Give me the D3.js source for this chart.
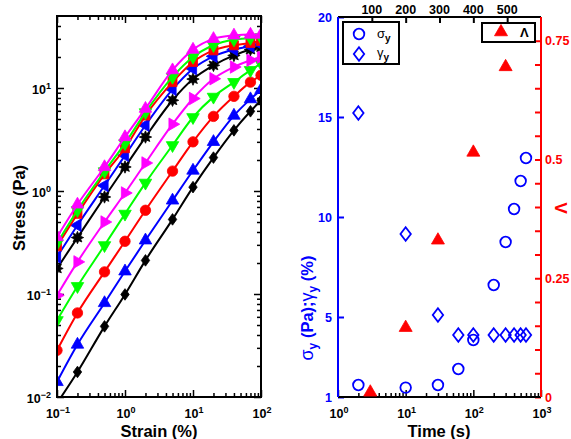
<!DOCTYPE html>
<html><head><meta charset="utf-8">
<script src="https://cdn.jsdelivr.net/npm/d3@7"></script>
<style>
body{margin:0;background:#fff}
svg{display:block}
text{font-family:"Liberation Sans",Arial,Helvetica,sans-serif;font-weight:bold}
</style></head><body>
<svg id="c" width="571" height="439"></svg>
<script>
// ---------- DATA: left panel (stress vs strain) ----------
const strain = [0.1, 0.2, 0.5, 1, 2, 5, 10, 20, 40, 70, 100];
const stressDiamond   = [0.0087, 0.0175, 0.0485, 0.099, 0.212, 0.53, 1.09, 2.11, 3.88, 5.94, 7.6];
const stressTriUp     = [0.014, 0.0323, 0.0818, 0.166, 0.332, 0.81, 1.58, 3.0, 5.4, 7.8, 9.6];
const stressCircle    = [0.0284, 0.0655, 0.164, 0.325, 0.65, 1.56, 3.0, 5.3, 8.3, 11.4, 13.3];
const stressTriDown   = [0.0556, 0.119, 0.297, 0.60, 1.2, 2.78, 5.2, 8.2, 11.4, 14.9, 17.3];
const stressTriRight  = [0.097, 0.205, 0.5, 0.957, 1.87, 4.45, 7.9, 12.3, 16, 18.6, 20];
const stressStar      = [0.177, 0.353, 0.875, 1.71, 3.34, 7.6, 12.2, 16.6, 20.7, 23.6, 25];
const stressTriLeft   = [0.229, 0.465, 1.13, 2.22, 4.35, 9.7, 15.4, 20.3, 23.6, 25.4, 26.4];
const stressSquare    = [0.29, 0.6, 1.45, 2.6, 5.4, 11.4, 17.9, 23.2, 26, 27.4, 28.6];
const stressTriDown2  = [0.31, 0.65, 1.55, 2.9, 5.8, 12.8, 20, 26, 29.5, 30.5, 31];
const stressTriUp2    = [0.357, 0.74, 1.71, 3.34, 6.3, 14.9, 23.6, 30, 32.4, 33, 33];

// ---------- DATA: right panel (vs time) ----------
const time     = [2, 10, 30, 60, 100, 200, 300, 400, 500, 600];
const sigmaY   = [1.6, 1.47, 1.6, 2.4, 3.85, 6.6, 8.75, 10.4, 11.8, 12.95];
const gammaY   = [15.2, 9.15, 5.1, 4.1, 4.1, 4.1, 4.1, 4.1, 4.1, 4.1];
const timeLam  = [3, 10, 30, 100, 300];
const lambda   = [0.01, 0.146, 0.33, 0.515, 0.695];

// ---------- tick labels ----------
const leftXMajor = [0.1, 1, 10, 100];
const leftXExp   = ["\u22121", "0", "1", "2"];
const leftYMajor = [0.01, 0.1, 1, 10];
const leftYExp   = ["\u22122", "\u22121", "0", "1"];
const rightXMajor = [1, 10, 100, 1000];
const rightXExp   = ["0", "1", "2", "3"];
const rightYTicks = [1, 5, 10, 15, 20];
const lamTicks    = [0, 0.25, 0.5, 0.75];
const lamTickLabels = ["0", "0.25", "0.5", "0.75"];
const topTicks    = [100, 200, 300, 400, 500];

// ---------- styles ----------
const seriesList = [
  {v: stressDiamond,  color: "#000000", mark: "diamond"},
  {v: stressTriUp,    color: "#0000ff", mark: "up"},
  {v: stressCircle,   color: "#ff0000", mark: "circle"},
  {v: stressTriDown,  color: "#00ff00", mark: "down"},
  {v: stressTriRight, color: "#ff00ff", mark: "right"},
  {v: stressStar,     color: "#000000", mark: "star"},
  {v: stressTriLeft,  color: "#0000ff", mark: "left"},
  {v: stressSquare,   color: "#ff0000", mark: "square"},
  {v: stressTriDown2, color: "#00ff00", mark: "down"},
  {v: stressTriUp2,   color: "#ff00ff", mark: "up"}
];

function triPath(L, angle){
  const R = L/Math.sqrt(3);
  const pts = [0,1,2].map(i=>{
    const a = (angle + i*120 - 90)*Math.PI/180;
    return [R*Math.cos(a), R*Math.sin(a)];
  });
  return "M"+pts.map(p=>p[0].toFixed(2)+","+p[1].toFixed(2)).join("L")+"Z";
}
function starPath(R, r, n){
  let d = "";
  for(let i=0;i<2*n;i++){
    const rad = i%2===0 ? R : r;
    const a = (i*180/n - 90)*Math.PI/180;
    d += (i===0?"M":"L")+(rad*Math.cos(a)).toFixed(2)+","+(rad*Math.sin(a)).toFixed(2);
  }
  return d+"Z";
}
function markPath(type, s){
  s = s || 1;
  switch(type){
    case "circle": { const r=5.2*s; return `M${-r},0A${r},${r} 0 1,0 ${r},0A${r},${r} 0 1,0 ${-r},0Z`; }
    case "diamond": { const w=4.2*s, h=5.8*s; return `M0,${-h}L${w},0L0,${h}L${-w},0Z`; }
    case "square": { const a=4.5*s; return `M${-a},${-a}H${a}V${a}H${-a}Z`; }
    case "up": return triPath(12.5*s, 0);
    case "down": return triPath(12.5*s, 180);
    case "right": return triPath(12.5*s, 90);
    case "left": return triPath(12.5*s, 270);
    case "star": return starPath(6.2*s, 3.4*s, 8);
  }
}

const svg = d3.select("#c");
svg.append("rect").attr("width",571).attr("height",439).attr("fill","#fff");

function powLabel(g, x, y, exp, anchor, color){
  const t = g.append("text").attr("x",x).attr("y",y).attr("text-anchor",anchor)
    .attr("font-size",12.5).attr("fill",color||"#000");
  t.append("tspan").text("10");
  t.append("tspan").attr("dy",-5).attr("font-size",9).text(exp);
}
function minorLog(lo, hi){
  const out=[];
  for(let e=Math.floor(Math.log10(lo)); e<=Math.ceil(Math.log10(hi)); e++){
    for(let m=2;m<=9;m++){ const v=m*Math.pow(10,e); if(v>lo*1.0001 && v<hi*0.9999) out.push(v); }
  }
  return out;
}
function styleAxis(sel, color, w){
  sel.select(".domain").remove();
  sel.selectAll(".tick line").attr("stroke",color).attr("stroke-width",w||1.5);
  sel.selectAll(".tick text").remove();
}

// ================= LEFT PANEL =================
const L = {x0:57, x1:261, y0:16, y1:397};
const xL = d3.scaleLog().domain([0.1,100]).range([L.x0,L.x1]);
const yL = d3.scaleLog().domain([0.01,50]).range([L.y1,L.y0]);
const gL = svg.append("g");

svg.append("defs").append("clipPath").attr("id","clipL")
  .append("rect").attr("x",L.x0).attr("y",L.y0).attr("width",L.x1-L.x0).attr("height",L.y1-L.y0);

const xMinL = minorLog(0.1,100), yMinL = minorLog(0.01,50);
[[d3.axisBottom(xL), L.y1], [d3.axisTop(xL), L.y0]].forEach(([ax, ty])=>{
  gL.append("g").attr("transform",`translate(0,${ty})`).call(ax.tickValues(leftXMajor).tickSize(-7).tickFormat("")).call(styleAxis,"#000");
  gL.append("g").attr("transform",`translate(0,${ty})`).call(ax.tickValues(xMinL).tickSize(-4).tickFormat("")).call(styleAxis,"#000");
});
[[d3.axisLeft(yL), L.x0], [d3.axisRight(yL), L.x1]].forEach(([ax, tx])=>{
  gL.append("g").attr("transform",`translate(${tx},0)`).call(ax.tickValues(leftYMajor).tickSize(-7).tickFormat("")).call(styleAxis,"#000");
  gL.append("g").attr("transform",`translate(${tx},0)`).call(ax.tickValues(yMinL).tickSize(-4).tickFormat("")).call(styleAxis,"#000");
});

const plotL = gL.append("g").attr("clip-path","url(#clipL)");
const lineL = d3.line().x(d=>xL(d[0])).y(d=>yL(d[1])).curve(d3.curveMonotoneX);
seriesList.forEach(s=>{
  const pts = strain.map((x,i)=>[x, s.v[i]]);
  plotL.append("path").attr("d",lineL(pts)).attr("fill","none").attr("stroke",s.color).attr("stroke-width",2);
  plotL.selectAll(null).data(pts).enter().append("path")
    .attr("transform",d=>`translate(${xL(d[0])},${yL(d[1])})`)
    .attr("d",markPath(s.mark)).attr("fill",s.color).attr("stroke",s.color).attr("stroke-width",0.8);
});

gL.append("rect").attr("x",L.x0).attr("y",L.y0).attr("width",L.x1-L.x0).attr("height",L.y1-L.y0)
  .attr("fill","none").attr("stroke","#000").attr("stroke-width",2);

leftXMajor.forEach((v,i)=>powLabel(gL, xL(v)+1, 418, leftXExp[i], "middle"));
leftYMajor.forEach((v,i)=>powLabel(gL, 51, yL(v)+6, leftYExp[i], "end"));

gL.append("text").attr("x",159).attr("y",437).attr("text-anchor","middle").attr("font-size",16.5).text("Strain (%)");
gL.append("text").attr("transform","translate(24.5,208) rotate(-90)").attr("text-anchor","middle").attr("font-size",16.5).text("Stress (Pa)");

// ================= RIGHT PANEL =================
const R = {x0:338, x1:541, y0:17, y1:397};
const xR = d3.scaleLog().domain([1,1000]).range([R.x0,R.x1]);
const xTop = d3.scaleLinear().domain([0,600]).range([R.x0,R.x1]);
const yR = d3.scaleLinear().domain([1,20]).range([R.y1,R.y0]);
const yLam = d3.scaleLinear().domain([0,0.8]).range([R.y1,R.y0]);
const gR = svg.append("g");

gR.append("g").attr("transform",`translate(0,${R.y1})`).call(d3.axisBottom(xR).tickValues(rightXMajor).tickSize(-7).tickFormat("")).call(styleAxis,"#000");
gR.append("g").attr("transform",`translate(0,${R.y1})`).call(d3.axisBottom(xR).tickValues(minorLog(1,1000)).tickSize(-4).tickFormat("")).call(styleAxis,"#000");
gR.append("g").attr("transform",`translate(0,${R.y0})`).call(d3.axisTop(xTop).tickValues(topTicks).tickSize(-6).tickFormat("")).call(styleAxis,"#000",2);
gR.append("g").attr("transform",`translate(${R.x0},0)`).call(d3.axisLeft(yR).tickValues(rightYTicks).tickSize(-6).tickFormat("")).call(styleAxis,"#0000ff",2);
gR.append("g").attr("transform",`translate(${R.x1},0)`).call(d3.axisRight(yLam).tickValues(d3.range(0,16).map(i=>i*0.05)).tickSize(-6).tickFormat("")).call(styleAxis,"#ff0000",2);

gR.append("line").attr("x1",R.x0).attr("x2",R.x1).attr("y1",R.y1).attr("y2",R.y1).attr("stroke","#000").attr("stroke-width",2);
gR.append("line").attr("x1",R.x0).attr("x2",R.x1).attr("y1",R.y0).attr("y2",R.y0).attr("stroke","#000").attr("stroke-width",2);
gR.append("line").attr("x1",R.x0).attr("x2",R.x0).attr("y1",R.y0).attr("y2",R.y1).attr("stroke","#0000ff").attr("stroke-width",2);
gR.append("line").attr("x1",R.x1).attr("x2",R.x1).attr("y1",R.y0).attr("y2",R.y1).attr("stroke","#ff0000").attr("stroke-width",2);

gR.selectAll(null).data(time.map((t,i)=>[t,gammaY[i]])).enter().append("path")
  .attr("transform",d=>`translate(${xR(d[0])},${yR(d[1])})`)
  .attr("d","M0,-6.8L5.2,0L0,6.8L-5.2,0Z").attr("fill","none").attr("stroke","#0000ff").attr("stroke-width",1.8);
gR.selectAll(null).data(time.map((t,i)=>[t,sigmaY[i]])).enter().append("circle")
  .attr("cx",d=>xR(d[0])).attr("cy",d=>yR(d[1])).attr("r",5.3)
  .attr("fill","none").attr("stroke","#0000ff").attr("stroke-width",1.8);
gR.selectAll(null).data(timeLam.map((t,i)=>[t,lambda[i]])).enter().append("path")
  .attr("transform",d=>`translate(${xR(d[0])},${yLam(d[1])})`)
  .attr("d",triPath(13,0)).attr("fill","#ff0000").attr("stroke","#ff0000").attr("stroke-width",0.8);

rightXMajor.forEach((v,i)=>powLabel(gR, xR(v)+1, 418, rightXExp[i], "middle"));
rightYTicks.forEach(v=>gR.append("text").attr("x",332).attr("y",yR(v)+4.5).attr("text-anchor","end")
  .attr("font-size",12.5).attr("fill","#0000ff").text(v));
lamTicks.forEach((v,i)=>gR.append("text").attr("x",545).attr("y",yLam(v)+4.5).attr("text-anchor","start")
  .attr("font-size",12.5).attr("fill","#ff0000").text(lamTickLabels[i]));
topTicks.forEach(v=>gR.append("text").attr("x",xTop(v)).attr("y",14).attr("text-anchor","middle")
  .attr("font-size",12.5).attr("fill","#000").text(v));

gR.append("text").attr("x",439).attr("y",437).attr("text-anchor","middle").attr("font-size",16.5).text("Time (s)");
const yt = gR.append("text").attr("transform","translate(313,308) rotate(-90)").attr("text-anchor","middle")
  .attr("font-size",16.5).attr("fill","#0000ff");
yt.append("tspan").attr("font-weight","normal").attr("font-size",18).text("\u03c3");
yt.append("tspan").attr("dy",4).attr("font-size",12).text("y");
yt.append("tspan").attr("dy",-4).text(" (Pa);");
yt.append("tspan").attr("font-weight","normal").attr("font-size",18).text("\u03b3");
yt.append("tspan").attr("dy",4).attr("font-size",12).text("y");
yt.append("tspan").attr("dy",-4).text(" (%)");
gR.append("text").attr("transform","translate(567,208) rotate(-90)").attr("text-anchor","middle")
  .attr("font-size",17).attr("font-weight","normal").attr("fill","#ff0000").text("\u039b");

const lg1 = gR.append("g");
lg1.append("rect").attr("x",343).attr("y",22).attr("width",56).attr("height",42).attr("fill","#fff").attr("stroke","#000").attr("stroke-width",2);
lg1.append("circle").attr("cx",359).attr("cy",34).attr("r",5.3).attr("fill","none").attr("stroke","#0000ff").attr("stroke-width",1.8);
lg1.append("path").attr("transform","translate(359,54)").attr("d","M0,-6.8L5.2,0L0,6.8L-5.2,0Z").attr("fill","none").attr("stroke","#0000ff").attr("stroke-width",1.8);
const t1 = lg1.append("text").attr("x",377).attr("y",38).attr("font-size",13);
t1.append("tspan").attr("font-weight","normal").text("\u03c3");
t1.append("tspan").attr("dy",4).attr("font-size",10).text("y");
const t2 = lg1.append("text").attr("x",377).attr("y",57).attr("font-size",13);
t2.append("tspan").attr("font-weight","normal").text("\u03b3");
t2.append("tspan").attr("dy",4).attr("font-size",10).text("y");

const lg2 = gR.append("g");
lg2.append("rect").attr("x",482).attr("y",23).attr("width",53).attr("height",19).attr("fill","#fff").attr("stroke","#000").attr("stroke-width",2);
lg2.append("path").attr("transform","translate(501,32)").attr("d",triPath(13,0)).attr("fill","#ff0000").attr("stroke","#ff0000").attr("stroke-width",0.8);
lg2.append("text").attr("x",520).attr("y",37).attr("font-size",13).attr("font-weight","normal").text("\u039b");
</script>
</body></html>
